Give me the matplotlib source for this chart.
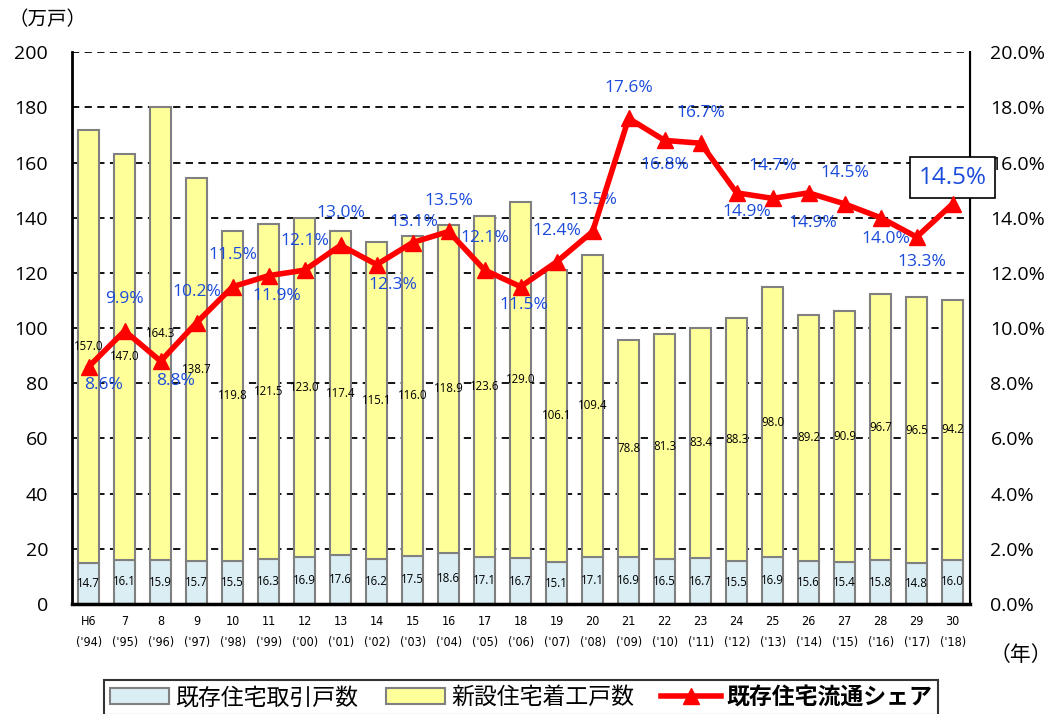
import matplotlib
matplotlib.use('Agg')
import matplotlib.pyplot as plt
from matplotlib.patches import Patch
from matplotlib.lines import Line2D
import numpy as np

plt.rcParams['font.family'] = ['Open Sans', 'Noto Sans CJK JP', 'DejaVu Sans']

# Data
years = ['H6', '7', '8', '9', '10', '11', '12', '13', '14', '15', '16', '17', '18',
         '19', '20', '21', '22', '23', '24', '25', '26', '27', '28', '29', '30']
years_ad = ["('94)", "('95)", "('96)", "('97)", "('98)", "('99)", "('00)", "('01)", "('02)",
            "('03)", "('04)", "('05)", "('06)", "('07)", "('08)", "('09)", "('10)", "('11)",
            "('12)", "('13)", "('14)", "('15)", "('16)", "('17)", "('18)"]
existing = [14.7, 16.1, 15.9, 15.7, 15.5, 16.3, 16.9, 17.6, 16.2, 17.5, 18.6, 17.1, 16.7,
            15.1, 17.1, 16.9, 16.5, 16.7, 15.5, 16.9, 15.6, 15.4, 15.8, 14.8, 16.0]
new_starts = [157.0, 147.0, 164.3, 138.7, 119.8, 121.5, 123.0, 117.4, 115.1, 116.0, 118.9,
              123.6, 129.0, 106.1, 109.4, 78.8, 81.3, 83.4, 88.3, 98.0, 89.2, 90.9, 96.7,
              96.5, 94.2]
share = [8.6, 9.9, 8.8, 10.2, 11.5, 11.9, 12.1, 13.0, 12.3, 13.1, 13.5, 12.1, 11.5,
         12.4, 13.5, 17.6, 16.8, 16.7, 14.9, 14.7, 14.9, 14.5, 14.0, 13.3, 14.5]
# label offsets for share labels (points): (dx, dy)
share_off = [(11, -13), (0, 23), (11, -14), (0, 22), (0, 23), (6, -15), (0, 21), (0, 23),
             (12, -15), (1, 15), (0, 22), (0, 23), (2, -13), (0, 22), (0, 23), (0, 22),
             (0, -18), (0, 22), (7, -14), (0, 23), (3, -22), (0, 22), (4, -15), (4, -18),
             (0, 18)]

blue_lbl = '#1A4BDB'
x = np.arange(len(years))

fig = plt.figure(figsize=(10.55, 7.14), dpi=100)
ax = fig.add_axes([0.068, 0.154, 0.851, 0.773])
ax2 = ax.twinx()

ax.set_ylim(0, 200)
ax.set_xlim(-0.47, 24.47)
ax2.set_ylim(0, 20)

for yv in range(20, 201, 20):
    ax.axhline(yv, color='black', lw=1.3, ls=(0, (4, 3)), zorder=0)

w = 0.6
ax.bar(x, existing, w, color='#DAEEF3', edgecolor='#808080', lw=1.5, zorder=2)
ax.bar(x, new_starts, w, bottom=existing, color='#FFFF99', edgecolor='#808080', lw=1.5, zorder=2)

for i in range(len(x)):
    ax.text(x[i], existing[i] / 2, f'{existing[i]:.1f}', ha='center', va='center',
            fontsize=8.3, zorder=3)
    ax.text(x[i], existing[i] + new_starts[i] / 2, f'{new_starts[i]:.1f}', ha='center',
            va='center', fontsize=8.3, zorder=3)

ax2.plot(x, share, color='#FF0000', lw=4, marker='^', markersize=11, zorder=5)
for i in range(len(x)):
    dx, dy = share_off[i]
    if i == len(x) - 1:
        ax2.annotate(f'{share[i]:.1f}%', (x[i], share[i]), xytext=(dx, dy + 1),
                     textcoords='offset points', ha='center', va='center', fontsize=17.5,
                     color=blue_lbl,
                     bbox=dict(boxstyle='square,pad=0.35', fc='white', ec='black', lw=1.2))
    else:
        ax2.annotate(f'{share[i]:.1f}%', (x[i], share[i]), xytext=(dx, dy),
                     textcoords='offset points', ha='center', va='center', fontsize=12.5,
                     color=blue_lbl)

ax.set_yticks(range(0, 201, 20))
ax.tick_params(axis='y', labelsize=14, length=0, pad=17)
ax2.set_yticks(np.arange(0, 20.1, 2))
ax2.set_yticklabels([f'{v:.1f}%' for v in np.arange(0, 20.1, 2)])
ax2.tick_params(axis='y', labelsize=14, length=0, pad=15)

ax.set_xticks(x)
ax.set_xticklabels([f'{a}\n{b}' for a, b in zip(years, years_ad)], fontsize=9,
                   linespacing=1.8, family=['DejaVu Sans'], fontstretch='condensed')
ax.tick_params(axis='x', length=0, pad=8)

for a in (ax, ax2):
    a.spines['top'].set_visible(False)
ax.spines['left'].set_linewidth(2)
ax.spines['bottom'].set_linewidth(2.5)
ax2.spines['right'].set_linewidth(1.5)
ax2.spines['left'].set_visible(False)
ax2.spines['bottom'].set_visible(False)

fig.text(0.008, 0.972, '（万戸）', fontsize=14, family=['Noto Sans CJK JP'], va='center')
fig.text(0.938, 0.083, '（年）', fontsize=15, family=['Noto Sans CJK JP'], va='center')

handles = [Patch(facecolor='#DAEEF3', edgecolor='#808080', lw=1.5),
           Patch(facecolor='#FFFF99', edgecolor='#808080', lw=1.5),
           Line2D([], [], color='#FF0000', lw=4, marker='^', markersize=11)]
leg = fig.legend(handles, ['既存住宅取引戸数', '新設住宅着工戸数', '既存住宅流通シェア'],
                 loc='upper center', bbox_to_anchor=(0.494, 0.063), ncol=3, frameon=True,
                 fancybox=False, edgecolor='black', handlelength=2.6,
                 columnspacing=1.2, handletextpad=0.25, borderpad=0.25,
                 prop={'family': ['Noto Sans CJK JP'], 'size': 16.5})
leg.get_frame().set_linewidth(1.5)
leg.get_texts()[2].set_fontweight('bold')

fig.savefig('out.png', dpi=100)
